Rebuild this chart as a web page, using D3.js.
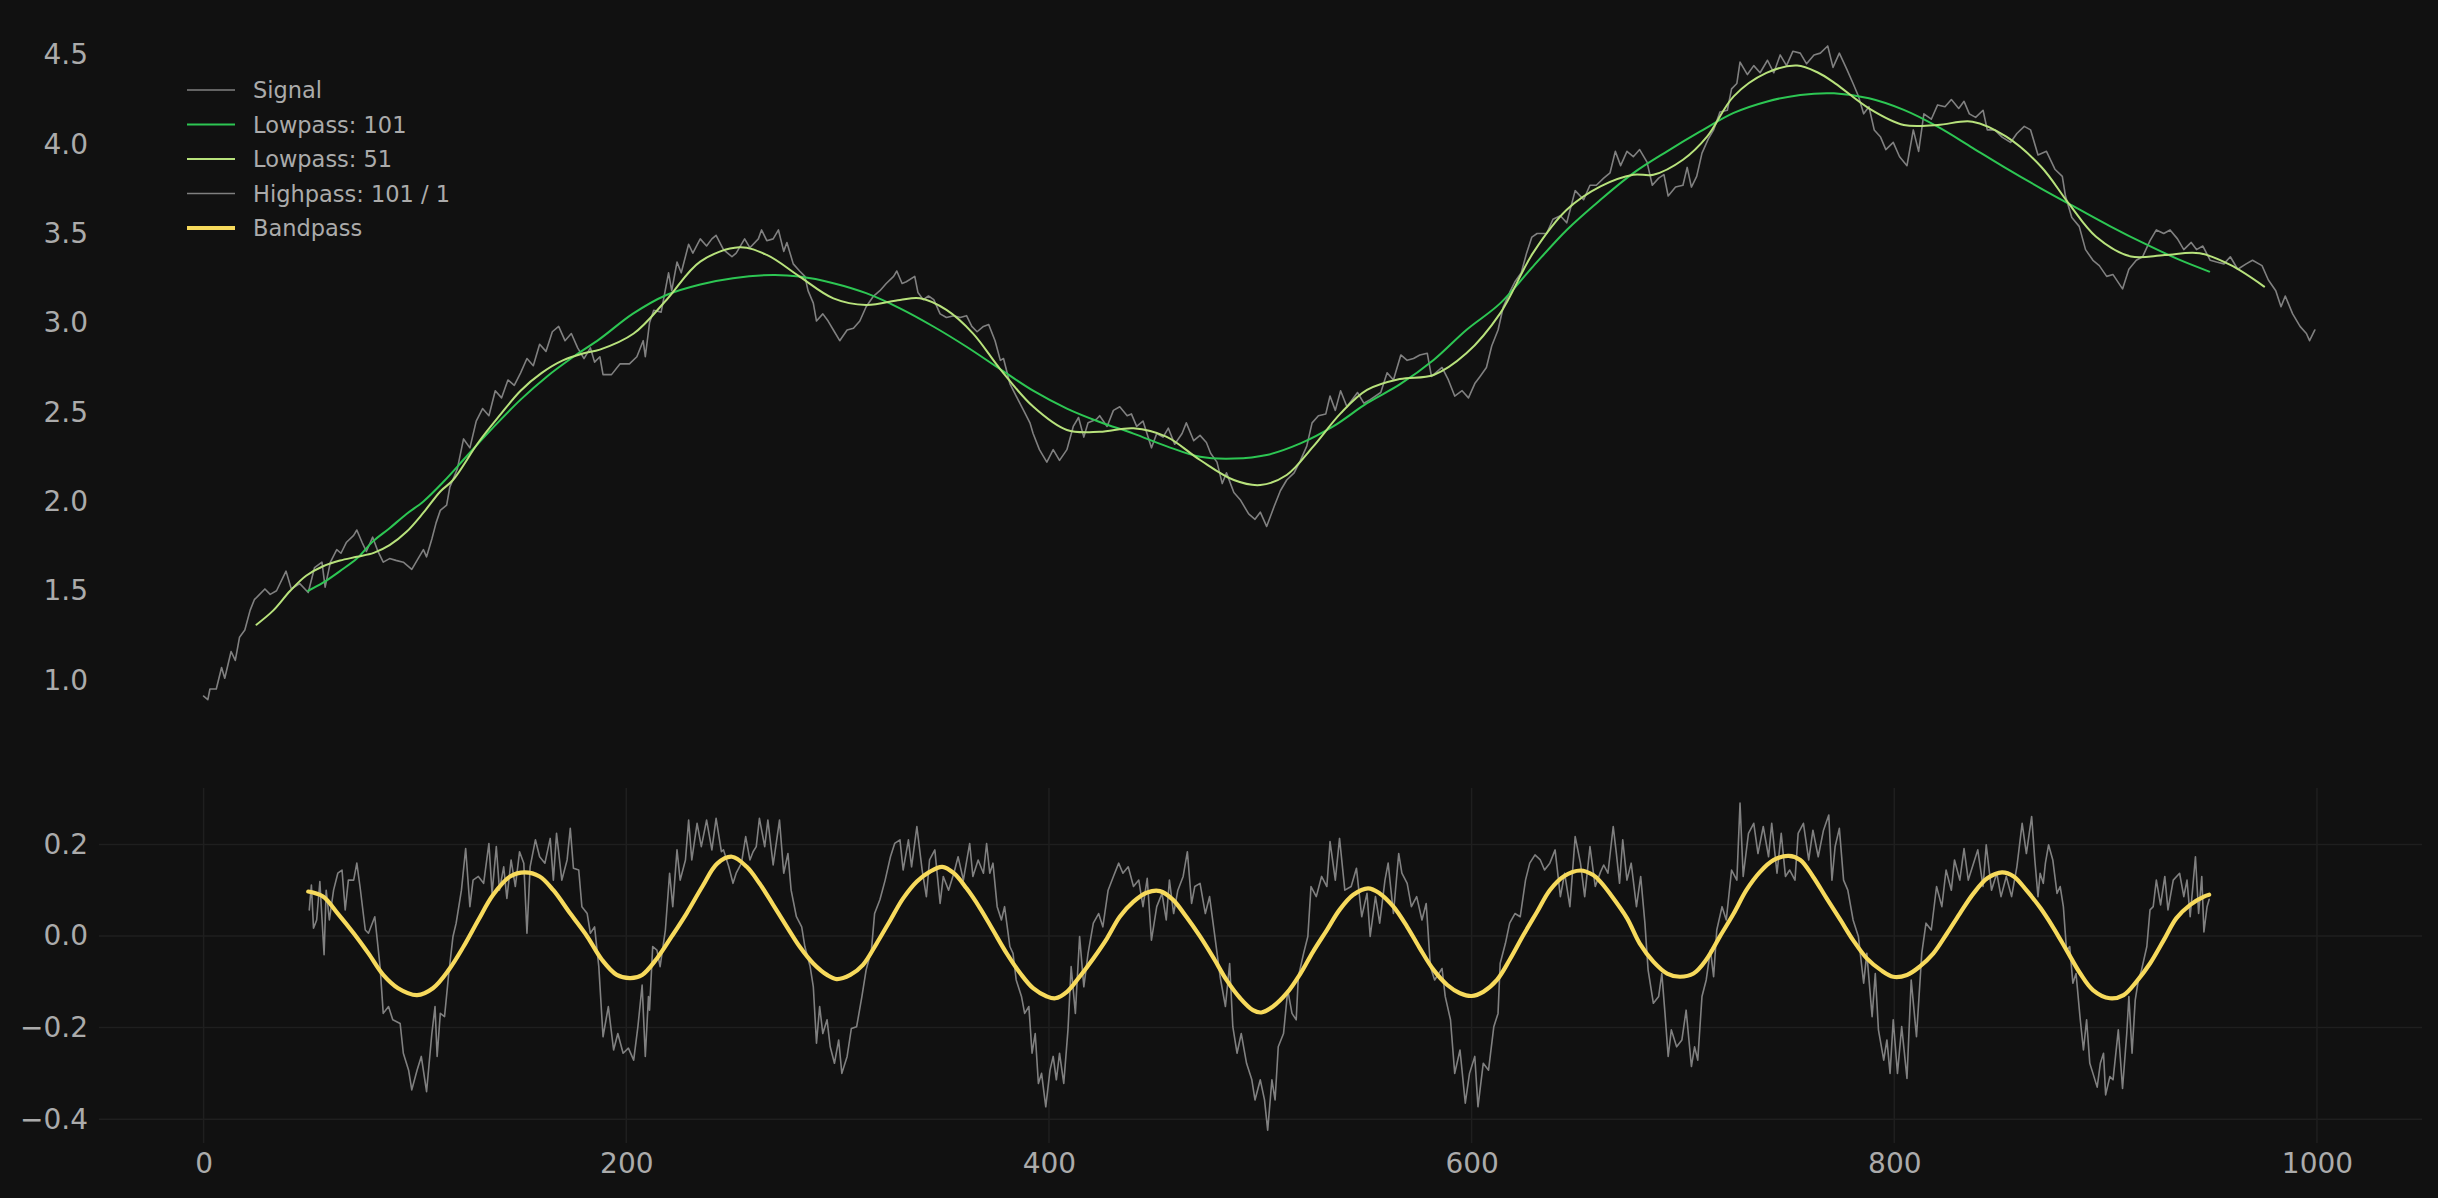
<!DOCTYPE html>
<html><head><meta charset="utf-8">
<script src="https://cdn.jsdelivr.net/npm/d3@7"></script>
<style>html,body{margin:0;padding:0;background:#111111;}svg{display:block;}</style>
</head><body>
<svg id="chart" width="2438" height="1198"></svg>
<script>
// ---------- DATA ----------
const topTicks = [1.0, 1.5, 2.0, 2.5, 3.0, 3.5, 4.0, 4.5];
const bottomTicks = [0.2, 0.0, -0.2, -0.4];
const xTicks = [0, 200, 400, 600, 800, 1000];
const legendLabels = ["Signal", "Lowpass: 101", "Lowpass: 51", "Highpass: 101 / 1", "Bandpass"];

const signal = [[0,0.91],[2,0.89],[3,0.95],[6,0.95],[8.5,1.07],[10,1.01],[13,1.16],[15,1.11],[17,1.24],[19.5,1.28],[22,1.39],[24,1.45],[26.5,1.48],[29,1.51],[31.5,1.48],[34.5,1.50],[39,1.61],[41.5,1.51],[45.5,1.54],[49.5,1.49],[52.5,1.63],[56,1.66],[57.5,1.52],[60,1.66],[63,1.73],[65,1.71],[67.5,1.77],[71,1.81],[72.5,1.84],[75,1.77],[77,1.72],[80,1.80],[82.5,1.72],[85,1.66],[88,1.68],[91,1.67],[94.5,1.66],[98.5,1.62],[101,1.67],[104,1.73],[105.5,1.69],[108,1.79],[110,1.88],[112,1.95],[115,1.98],[116.5,2.08],
[120,2.18],[123,2.35],[126,2.30],[129,2.45],[132,2.52],[135,2.48],[138,2.62],[141,2.58],[144,2.68],[147,2.65],[150,2.72],[153,2.80],[156,2.76],[159,2.88],[162,2.84],[165,2.95],[168,2.98],[171,2.90],[174,2.94],[177,2.86],[180,2.80],[183,2.86],[185,2.78],
[187.5,2.81],[189,2.71],[193,2.71],[197,2.77],[201.5,2.77],[205,2.81],[208,2.90],[209,2.81],[211,3.00],[213,3.07],[216.5,3.06],[220,3.28],[221.5,3.18],[224,3.34],[226,3.28],[229.5,3.44],[231.5,3.39],[235,3.47],[238,3.43],[240.5,3.47],[242.5,3.49],[246,3.41],[250,3.37],[252,3.39],[256,3.47],[258.5,3.42],[262.5,3.47],[264,3.52],[266.5,3.46],[269.5,3.47],[272,3.52],[274.5,3.40],[276,3.45],[279,3.33],[282,3.29],[284.5,3.26],[286,3.18],[288.5,3.11],[290,3.01],[293,3.05],[295.5,3.01],[298,2.96],[301,2.90],[304.5,2.96],[307.5,2.97],[310.5,3.01],[313.5,3.09],[317,3.15],[320,3.18],[323,3.22],[326.5,3.26],[328,3.29],[330.5,3.22],[332.5,3.23],[336.5,3.26],[338,3.17],[340.5,3.13],[343,3.15],[345.5,3.13],[348.5,3.05],[351.5,3.03],[355,3.04],[358,3.03],[361,3.04],[363.5,2.98],[366,2.95],[369,2.98],[371.5,2.99],[374.5,2.90],
[377,2.79],[378.5,2.80],[381.5,2.66],[384.5,2.59],[388,2.51],[391,2.44],[392.5,2.38],[395.5,2.29],[399,2.22],[402,2.29],[405,2.23],[408.5,2.29],[411.5,2.42],[414,2.47],[416.5,2.36],[418.5,2.44],[422.5,2.46],[424,2.48],[427.5,2.42],[430.5,2.51],[433.5,2.53],[437,2.48],[439,2.49],[441.5,2.42],[444.5,2.45],[448.5,2.30],[451,2.38],[454,2.36],[456.5,2.41],[459.5,2.32],[463,2.38],[465,2.44],[468.5,2.34],[471.5,2.37],[474.5,2.33],[476.5,2.27],[479.5,2.22],[482,2.10],[484,2.16],[487.5,2.05],[490.5,2.01],[494.5,1.93],[497.5,1.90],[500,1.94],[503,1.86],[506.5,1.97],[509.5,2.06],[512.5,2.12],[516,2.16],[519,2.23],[522,2.31],[524.5,2.44],[527.5,2.48],[531,2.49],[533,2.59],[535.5,2.51],[538,2.62],[541,2.53],[546,2.61],[549,2.55],[552,2.57],[557,2.61],[560,2.72],[563,2.68],[566.5,2.82],[569.5,2.79],[572.5,2.80],[575.5,2.82],[579,2.83],[581,2.70],[586,2.75],[589,2.68],[592,2.59],[595.5,2.62],[598.5,2.58],[601.5,2.66],[604,2.70],[607,2.75],[609.5,2.87],[612.5,2.96],[615,3.09],[618,3.17],[620.5,3.23],[623.5,3.28],[626,3.39],[628.5,3.48],[631,3.50],[635.5,3.50],[638.5,3.58],[642,3.60],[645,3.56],[649,3.74],[653,3.69],[656,3.77],[659,3.77],[662.5,3.81],[665.5,3.84],[668,3.96],[670.5,3.88],[673.5,3.96],[676.5,3.93],[679.5,3.97],[683,3.90],[685.5,3.77],[688.5,3.81],[691,3.83],[693,3.71],[696.5,3.76],[700,3.77],[702,3.87],[704,3.76],[706.5,3.82],[709,3.95],[712,4.03],[714.5,4.08],[717.5,4.18],[721,4.19],[723,4.31],[725.5,4.34],[727,4.46],[730.5,4.39],[733.5,4.44],[736.5,4.40],
[740,4.47],[743,4.40],[746,4.50],[749,4.44],[752,4.52],
[755.5,4.51],[758.5,4.45],[762,4.50],[765,4.51],[768.5,4.55],[771,4.43],[774,4.51],[777.5,4.42],[780.5,4.34],[783,4.27],[785.5,4.17],[788,4.21],[790.5,4.08],[793.5,4.04],[796,3.97],[799.5,4.01],[802.5,3.93],[806,3.88],[809,4.08],[811.5,3.96],[814,4.17],[817.5,4.14],[820.5,4.22],[824,4.21],[827,4.25],[830.5,4.20],[833,4.24],[835.5,4.17],[838.5,4.15],[842,4.19],[844,4.08],[847.5,4.08],[851,4.04],[855,4.01],[858,4.06],[861.5,4.10],[864.5,4.08],[868,3.94],[872,3.96],[876,3.86],[879.5,3.82],[881,3.71],[884,3.59],[887.5,3.54],[890.5,3.41],[894,3.35],[897,3.32],[900.5,3.26],[903.5,3.27],[908,3.19],[911,3.30],[914.5,3.35],[917.5,3.37],[921,3.46],[924,3.52],[927.5,3.50],[930.5,3.52],[934,3.47],[937,3.41],[940.5,3.45],[943,3.41],[946,3.43],[949.5,3.35],[952.5,3.34],[956,3.33],[959,3.37],[962.5,3.30],[966.5,3.33],[969.5,3.35],[974,3.32],[977,3.24],[980.5,3.18],[983,3.09],[985,3.15],[988.5,3.05],[992,2.98],[995,2.94],[996.5,2.90],[999,2.96]];

const lowpass101 = [[49.5,1.50],[56.5,1.545],[64.5,1.61],[72.5,1.68],[80,1.775],[88,1.85],[96,1.93],[104,2.00],[113.5,2.11],[125,2.26],[137.5,2.42],[150,2.57],[162.5,2.70],[175,2.81],[187.5,2.91],[203,3.05],[219,3.156],[235,3.215],[250.5,3.25],[269.5,3.268],[282,3.259],[298,3.222],[313.5,3.166],[329.5,3.081],[345.5,2.978],[361,2.866],[377,2.74],[392.5,2.62],[408.5,2.52],[424,2.445],[440,2.38],[455.5,2.31],[471.5,2.25],[487.5,2.24],[503,2.26],[519,2.325],[534.5,2.42],[550.5,2.55],[566,2.655],[582,2.792],[597.5,2.96],[613.5,3.109],[629,3.315],[645,3.52],[661,3.689],[676.5,3.838],[692.5,3.96],[708,4.07],[724,4.175],[739.5,4.238],[755.5,4.276],[771.5,4.285],[788,4.257],[804.5,4.192],[820.5,4.098],[837,3.98],[853,3.865],[869.5,3.752],[886,3.645],[902,3.542],[918.5,3.443],[934.5,3.355],[949,3.287]];

const lowpass51 = [[25,1.31],[33,1.39],[41,1.50],[48.5,1.584],[56.5,1.637],[64.5,1.669],[72.5,1.69],[80.5,1.712],[88,1.755],[96,1.83],[104,1.937],[112,2.056],[118,2.12],[130,2.33],[140,2.48],[150,2.62],[160,2.72],[170,2.79],[180,2.83],[187.5,2.85],[203.5,2.94],[219,3.128],[235,3.343],[253.5,3.423],[266.5,3.38],[282,3.259],[298,3.137],[313.5,3.10],[329.5,3.128],[339,3.137],[351.5,3.072],[364,2.941],[377,2.74],[392.5,2.531],[408.5,2.40],[424,2.39],[440,2.41],[455.5,2.363],[471.5,2.232],[487.5,2.12],[500,2.092],[512.5,2.148],[525,2.307],[538,2.493],[550.5,2.624],[566,2.685],[582,2.708],[597.5,2.829],[613.5,3.053],[629,3.39],[645,3.633],[661,3.764],[676.5,3.829],[686,3.829],[700,3.913],[711.5,4.044],[724,4.268],[739.5,4.399],[754,4.44],[764,4.40],[772,4.341],[788,4.201],[804.5,4.108],[820.5,4.108],[837,4.126],[853,4.042],[869.5,3.874],[882.5,3.669],[895.5,3.482],[912,3.371],[928,3.38],[944.5,3.389],[959,3.324],[975,3.203]];

const highpass = [[50,0.057],[51,0.111],[52,0.017],[53.5,0.035],[55,0.119],[57,-0.041],[58,0.100],[59.5,0.035],[61.5,0.100],[63.5,0.137],[65.5,0.144],[67,0.057],[68.5,0.122],[71,0.122],[72.5,0.159],[74,0.108],[76.5,0.013],[78,0.006],[81,0.042],[83.5,-0.067],[85,-0.169],[87.5,-0.154],[89.5,-0.183],[93,-0.191],[94.5,-0.256],[97,-0.293],[98.5,-0.336],[101,-0.293],[103,-0.263],[105.5,-0.340],[108,-0.213],[109.5,-0.154],[110.5,-0.263],[112,-0.169],[114,-0.176],[116,-0.082],[118,-0.001],[119.5,0.028],[122,0.100],[124,0.191],[126,0.064],[127.5,0.122],[130,0.130],[132.5,0.115],[135,0.202],[136.5,0.093],[138.5,0.195],[140,0.100],[142,0.151],[143.5,0.082],[145.5,0.166],[147.5,0.108],[149.5,0.184],[151.5,0.159],[153,0.006],[154.5,0.151],[157,0.210],[159,0.173],[161.5,0.159],[164,0.213],[165.5,0.122],[167,0.224],[169.5,0.122],[172,0.166],[173.5,0.235],[175,0.148],[177.5,0.144],[179,0.064],[181.5,0.049],[183,0.006],[185,0.020],[187,-0.067],[189,-0.220],[191.5,-0.154],[194,-0.249],[196,-0.213],[198.5,-0.256],[201,-0.245],[203.5,-0.271],[205.5,-0.198],[207.5,-0.107],[209,-0.263],[210.5,-0.132],[211,-0.162],[212.5,-0.023],[214.5,-0.031],[216,-0.067],[218.5,0.013],[220.5,0.137],[222,0.064],[224,0.188],[225.5,0.122],[228,0.166],[229.5,0.253],[231,0.166],[233.5,0.246],[235.5,0.195],[238,0.253],[240.5,0.188],[242.5,0.257],[245,0.184],
[246,0.188],[248.5,0.151],[250.5,0.115],[252,0.137],[254.5,0.159],[256.5,0.217],[258.5,0.166],[260,0.184],[261.5,0.195],[263,0.257],[265.5,0.195],[267,0.253],[269.5,0.155],[272.5,0.253],[274.5,0.137],[276.5,0.180],[278,0.100],[280.5,0.042],[283,0.020],[284.5,-0.023],[287,-0.067],[288.5,-0.111],[290,-0.234],[291.5,-0.154],[293,-0.213],[295,-0.183],[296.5,-0.242],[298.5,-0.278],[300.5,-0.227],[302,-0.300],[304.5,-0.263],[306.5,-0.202],[309,-0.198],[311.5,-0.132],[313.5,-0.074],[316,-0.031],[317.5,0.049],[320,0.079],[322.5,0.122],[325,0.173],[327,0.202],[329.5,0.210],[331,0.144],[333.5,0.210],[335,0.151],[337.5,0.239],[340,0.144],[342,0.086],[343.5,0.166],[346,0.188],[348.5,0.071],[350,0.130],[352.5,0.100],[355,0.137],[357,0.173],[359.5,0.122],[362.5,0.202],[364,0.130],[366.5,0.166],[369,0.137],[370.5,0.202],[372,0.137],[373.5,0.159],[375.5,0.064],[377.5,0.035],[379,0.064],[381.5,-0.023],[383,-0.038],[384.5,-0.096],[387,-0.132],[388.5,-0.169],[390.5,-0.154],[392,-0.256],[393.5,-0.213],[395,-0.322],[396.5,-0.300],[398.5,-0.373],[400.5,-0.293],[402,-0.263],[403.5,-0.314],[405,-0.256],[407,-0.322],[409,-0.205],[410.5,-0.067],[412.5,-0.169],[414.5,-0.001],[416.5,-0.111],[418.5,-0.038],[421,0.028],[423.5,0.049],[425.5,0.020],[428,0.100],[430.5,0.130],[433,0.159],[435,0.137],[437.5,0.151],[440,0.108],[442.5,0.122],[444.5,0.064],[446.5,0.126],[448.5,-0.009],[451,0.064],[453.5,0.093],
[455.5,0.035],[457,0.122],[459,0.049],[461,0.100],[463.5,0.130],[465.5,0.184],[467.5,0.071],[469,0.108],[471.5,0.115],[474,0.049],[476,0.086],[478.5,-0.001],[481,-0.089],[483.5,-0.154],[485.5,-0.060],[487,-0.198],[489,-0.256],[491,-0.213],[493.5,-0.278],[496,-0.314],[497.5,-0.358],[500,-0.314],[502,-0.358],[503.5,-0.424],[505.5,-0.314],[507,-0.358],[508.5,-0.242],[511,-0.213],[513,-0.118],[515,-0.169],[517,-0.183],[518,-0.089],[520.5,-0.038],[522.5,-0.001],[524,0.108],[526.5,0.086],[529,0.130],[531.5,0.108],[533,0.206],[535.5,0.122],[537.5,0.213],[540,0.100],[543,0.108],[545.5,0.148],[548,0.042],[550.5,0.093],[552,-0.001],[554.5,0.086],[556.5,0.028],[559,0.122],[560.5,0.159],[563,0.049],[565.5,0.180],[567,0.137],[569.5,0.115],[571.5,0.064],[574,0.086],[576.5,0.035],[578.5,0.071],[580.5,-0.067],[582.5,-0.096],[586,-0.071],[587.5,-0.132],[590,-0.183],[592,-0.300],[594.5,-0.249],[597,-0.365],[599,-0.300],[601.5,-0.263],[603,-0.373],[605.5,-0.278],[608,-0.293],[610.5,-0.198],[612.5,-0.169],[613.5,-0.060],[616,-0.016],[618,0.028],[620.5,0.049],[623,0.042],[625.5,0.122],[627.5,0.159],[630,0.177],[632.5,0.166],[634.5,0.144],[637,0.159],[639.5,0.188],[642,0.086],[644,0.137],[646.5,0.064],[649,0.217],[651.5,0.159],[653.5,0.086],[656,0.195],[658.5,0.108],
[661,0.140],[662.5,0.155],[664.5,0.137],[667,0.239],[668.5,0.180],[670,0.115],[671.5,0.210],[673.5,0.122],[675.5,0.159],[678,0.064],[680,0.130],[682,0.028],[683.5,-0.074],[686,-0.147],[688.5,-0.132],[690,-0.082],[691.5,-0.169],[693,-0.263],[694.5,-0.205],[697,-0.242],[699.5,-0.227],[701.5,-0.162],[704,-0.285],[705.5,-0.242],[707,-0.271],[709,-0.132],[711,-0.096],[713,-0.031],[714.5,-0.089],[716,0.013],[718.5,0.064],[720.5,0.035],[723,0.144],[725.5,0.122],[727,0.290],[728.5,0.130],[731,0.224],[733.5,0.246],[735.5,0.180],[738,0.239],[740.5,0.173],[742,0.246],[744.5,0.137],[746.5,0.224],[748.5,0.130],[750.5,0.144],[753,0.122],[754.5,0.224],[757,0.246],[759.5,0.166],[761.5,0.231],[764,0.173],[766.5,0.231],[769,0.264],[770.5,0.122],[772,0.195],[774,0.235],[776,0.122],[778,0.100],[780.5,0.035],[783,-0.001],[785.5,-0.103],[787,-0.038],[789.5,-0.176],[791,-0.082],[792.5,-0.205],[795,-0.271],[796.5,-0.227],[798,-0.300],[799.5,-0.183],[801.5,-0.300],[803.5,-0.198],[806,-0.311],[808,-0.096],[810.5,-0.220],[813,-0.038],[815,0.028],[817.5,0.013],[820,0.108],[822.5,0.064],[824.5,0.144],[827,0.100],[828.5,0.166],[831,0.122],[833,0.191],[835,0.122],[837.5,0.159],[839.5,0.188],[842,0.108],[843.5,0.199],[846,0.100],[848.5,0.137],[850.5,0.086],[853,0.130],[855.5,0.086],[858,0.151],[860.5,0.246],[862.5,0.180],[865,0.261],[866.5,0.166],[868,0.086],
[869,0.137],[870.5,0.115],[871.5,0.159],[873,0.199],[875,0.166],[877,0.093],[878.5,0.108],[880,0.064],[881.5,-0.031],[883,-0.023],[884.5,-0.103],[886,-0.082],[888,-0.183],[889.5,-0.249],[891,-0.183],[892.5,-0.278],[894,-0.300],[896,-0.330],[897.5,-0.278],[899,-0.256],[900,-0.347],[902,-0.307],[903.5,-0.314],[906,-0.205],[908,-0.333],[910,-0.213],[911,-0.132],[912.5,-0.256],[914,-0.140],[915.5,-0.096],[917,-0.074],[919.5,-0.023],[921,0.057],[922.5,0.064],[924,0.122],[926,0.068],[928,0.130],[929.5,0.057],[932,0.122],[935,0.137],[937,0.086],[938.5,0.122],[940,0.042],[942.5,0.173],[944,0.049],[945.5,0.130],[946.5,0.009],[948,0.064],[949,0.080]];

const bandpass = [[49.5,0.097],[56.5,0.086],[63.5,0.049],[71,0.006],[78,-0.038],[85,-0.085],[92,-0.114],[101,-0.129],[108.5,-0.114],[116,-0.074],[123,-0.023],[130,0.035],[137,0.090],[145,0.130],[152,0.139],[159,0.130],[165.5,0.100],[173.5,0.049],[181.5,-0.001],[188.5,-0.052],[195.5,-0.085],[202,-0.092],[207.5,-0.085],[214.5,-0.049],[221.5,-0.001],[228.5,0.049],[236,0.108],[243,0.158],[250,0.173],[257,0.151],[263,0.115],[269.5,0.068],[276,0.020],[282,-0.023],[288.5,-0.060],[295,-0.085],[299.5,-0.094],[306,-0.085],[312,-0.063],[318.5,-0.016],[325,0.035],[331,0.082],[337.5,0.119],[343.5,0.140],[349.5,0.151],[355,0.137],[361,0.104],[367.5,0.060],[373.5,0.013],[380,-0.038],[386.5,-0.082],[392.5,-0.114],[399,-0.132],[403,-0.136],[408.5,-0.122],[414.5,-0.089],[421,-0.049],[427.5,-0.005],[433.5,0.042],[440,0.075],[446.5,0.095],[452.5,0.098],[458.5,0.080],[465,0.042],[471.5,-0.001],[478,-0.049],[484,-0.096],[490.5,-0.136],[496.5,-0.162],[500.5,-0.167],[506,-0.154],[512.5,-0.125],[519,-0.082],[525,-0.034],[531.5,0.013],[537.5,0.057],[544,0.090],[551,0.104],[556.5,0.093],[563,0.064],[569.5,0.020],[575.5,-0.027],[582,-0.074],[588.5,-0.107],[594.5,-0.125],[600,-0.131],[605.5,-0.122],[612,-0.096],[618,-0.052],[624.5,0.002],[631,0.053],[637,0.100],[643.5,0.130],[651.5,0.143],[657.5,0.133],[661,0.118],[665.5,0.092],[673.5,0.039],[679.5,-0.016],[686,-0.056],[692.5,-0.082],[698.5,-0.089],[705,-0.082],[711,-0.052],[717.5,-0.001],[724,0.049],[730,0.100],[736.5,0.140],[743,0.166],[750,0.175],[755.5,0.166],[761.5,0.130],[768,0.082],[774.5,0.035],[780.5,-0.009],[787,-0.049],[793.5,-0.074],[799.5,-0.089],[806,-0.085],[812,-0.067],[818.5,-0.038],[825,0.006],[831,0.049],[837.5,0.093],[844,0.126],[851,0.139],[856.5,0.130],[862.5,0.100],[869,0.062],[875,0.020],[881.5,-0.031],[888,-0.082],[894,-0.118],[902,-0.136],[908.5,-0.129],[914.5,-0.100],[921,-0.060],[927.5,-0.009],[933.5,0.039],[940,0.068],[946.5,0.086],[949,0.090]];

// ---------- LAYOUT / STYLE ----------
const W = 2438, H = 1198;
const plotL = 99, plotR = 2422;
const topY0 = 14, topY1 = 734;
const botY0 = 788, botY1 = 1143;
const C = {
  bg: "#111111", text: "#ababab", grid: "#1f1f1f",
  signal: "#808080", lp101: "#2dc653", lp51: "#b8e27c", hp: "#808080", bp: "#f7da5c"
};
const font = "DejaVu Sans, Liberation Sans, sans-serif";

const svg = d3.select("#chart");
svg.append("rect").attr("width", W).attr("height", H).attr("fill", C.bg);

const x = d3.scaleLinear().domain([-49.5, 1049.7]).range([plotL, plotR]);
const yTop = d3.scaleLinear().domain([0.698, 4.729]).range([topY1, topY0]);
const yBot = d3.scaleLinear().domain([-0.452, 0.3231]).range([botY1, botY0]);

// grid (bottom panel only)
const gGrid = svg.append("g");
gGrid.selectAll("line.h").data(bottomTicks).join("line")
  .attr("x1", plotL).attr("x2", plotR)
  .attr("y1", d => yBot(d)).attr("y2", d => yBot(d))
  .attr("stroke", C.grid).attr("stroke-width", 1.5);
gGrid.selectAll("line.v").data(xTicks).join("line")
  .attr("x1", d => x(d)).attr("x2", d => x(d))
  .attr("y1", botY0).attr("y2", botY1)
  .attr("stroke", C.grid).attr("stroke-width", 1.5);

// axes via d3 axis generators, styled to look like the reference
function styleAxis(g) {
  g.select(".domain").remove();
  g.selectAll(".tick line").remove();
  g.selectAll(".tick text").attr("fill", C.text).attr("font-family", font).attr("font-size", 28);
}
const fmt = d => (d < 0 ? "\u2212" : "") + Math.abs(d).toFixed(1);
svg.append("g").attr("transform", `translate(${plotL - 11},0)`)
  .call(d3.axisLeft(yTop).tickValues(topTicks).tickFormat(fmt).tickSize(0).tickPadding(0))
  .call(styleAxis);
svg.append("g").attr("transform", `translate(${plotL - 11},0)`)
  .call(d3.axisLeft(yBot).tickValues(bottomTicks).tickFormat(fmt).tickSize(0).tickPadding(0))
  .call(styleAxis);
const gx = svg.append("g").attr("transform", `translate(0,${botY1 + 10})`)
  .call(d3.axisBottom(x).tickValues(xTicks).tickFormat(d3.format("d")).tickSize(0).tickPadding(0))
  .call(styleAxis);
gx.selectAll(".tick text").attr("dy", "0.71em");

// lines
const lineTop = d3.line().x(d => x(d[0])).y(d => yTop(d[1]));
const lineTopSmooth = d3.line().x(d => x(d[0])).y(d => yTop(d[1])).curve(d3.curveCatmullRom.alpha(0.5));
const lineBot = d3.line().x(d => x(d[0])).y(d => yBot(d[1]));
const lineBotSmooth = d3.line().x(d => x(d[0])).y(d => yBot(d[1])).curve(d3.curveCatmullRom.alpha(0.5));

const add = (data, gen, color, w) => svg.append("path").datum(data).attr("d", gen)
  .attr("fill", "none").attr("stroke", color).attr("stroke-width", w)
  .attr("stroke-linejoin", "round").attr("stroke-linecap", "round");

add(signal, lineTop, C.signal, 1.6);
add(lowpass101, lineTopSmooth, C.lp101, 2.0);
add(lowpass51, lineTopSmooth, C.lp51, 2.0);
add(highpass, lineBot, C.hp, 1.6);
add(bandpass, lineBotSmooth, C.bp, 4.2);

// legend
const legColors = [C.signal, C.lp101, C.lp51, C.hp, C.bp];
const legWidths = [1.6, 2.2, 2.2, 1.6, 4.2];
const legY0 = 90, legDy = 34.5;
const gl = svg.append("g");
legendLabels.forEach((lab, i) => {
  const yy = legY0 + i * legDy;
  gl.append("line").attr("x1", 187).attr("x2", 235).attr("y1", yy).attr("y2", yy)
    .attr("stroke", legColors[i]).attr("stroke-width", legWidths[i]);
  gl.append("text").attr("x", 253).attr("y", yy).attr("dy", "0.36em")
    .attr("fill", C.text).attr("font-family", font).attr("font-size", 22.5).text(lab);
});
</script>
</body></html>
